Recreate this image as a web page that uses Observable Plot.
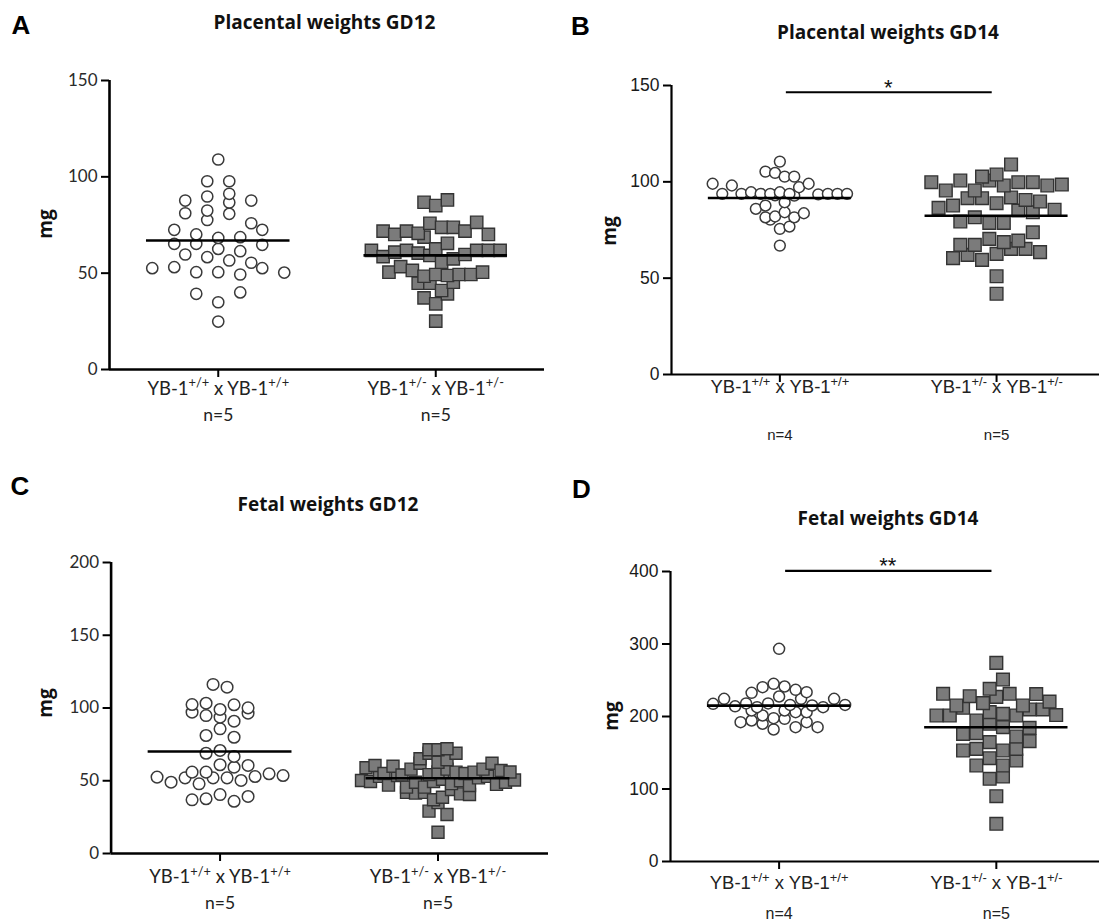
<!DOCTYPE html>
<html><head><meta charset="utf-8">
<script src="https://cdn.jsdelivr.net/npm/d3@7"></script>
<script src="https://cdn.jsdelivr.net/npm/@observablehq/plot@0.6"></script>
<style>
body{margin:0;background:#fff;}
#wrap{position:relative;width:1101px;height:922px;overflow:hidden;background:#fff;}
.letter{position:absolute;font-family:"Liberation Sans",Arial,sans-serif;font-weight:bold;font-size:26px;line-height:1;color:#000;transform:translate(-50%,-50%);}
.ttl{position:absolute;font-family:"Open Sans",sans-serif;font-weight:bold;font-size:19px;line-height:1;color:#111;transform:translate(-50%,-50%);white-space:nowrap;}
.mg{position:absolute;font-family:"Open Sans",sans-serif;font-weight:bold;font-size:19px;line-height:1;color:#111;transform:translate(-50%,-50%) rotate(-90deg);}
.pnl{position:absolute;}
</style></head><body><div id="wrap"></div>
<script>
// ---------- data ----------
const categories = ["YB-1^{+/+} x YB-1^{+/+}", "YB-1^{+/-} x YB-1^{+/-}"];
const letters = ["A", "B", "C", "D"];
const titles = ["Placental weights GD12", "Placental weights GD14", "Fetal weights GD12", "Fetal weights GD14"];
const nA = ["n=5", "n=5"];
const nB = ["n=4", "n=5"];
const nC = ["n=5", "n=5"];
const nD = ["n=4", "n=5"];
const ticksA = [0, 50, 100, 150];
const ticksB = [0, 50, 100, 150];
const ticksC = [0, 50, 100, 150, 200];
const ticksD = [0, 100, 200, 300, 400];
const sigLabels = ["*", "**"];
const sigValues = [146.5, 401];

// Placental weights GD12 (mg)
const a1 = [52.6, 59.7, 87.7, 81.1, 65.2, 53.1, 89.8, 82.5, 72.5, 65.2, 58.3, 50.5,
  97.7, 77.6, 70.1, 62.6, 50.5, 39.3, 109.0, 24.9, 97.7, 91.2, 80.8, 68.3, 56.6, 49.3, 34.9,
  86.7, 75.9, 68.7, 61.4, 52.6, 40.0, 87.7, 72.5, 64.7, 55.4, 50.3];
const a2 = [61.8, 71.8, 58.6, 50.5, 70.1, 60.9, 53.4, 44.8, 71.8, 61.8, 51.4, 44.8,
  68.7, 60.4, 48.4, 86.8, 70.7, 59.2, 49.3, 37.2, 25.1, 85.1, 75.9, 62.6, 55.7, 48.8, 41.0, 34.1,
  88.0, 73.8, 65.5, 57.4, 45.3, 39.3, 73.8, 59.7, 49.3, 71.8, 61.8, 49.3, 76.4, 70.1, 61.8, 50.5, 61.8];
// Placental weights GD14 (mg)
const b1 = [99.0, 93.8, 98.1, 93.8, 94.6, 87.7, 80.4, 105.3, 93.8, 86.0, 104.6, 93.8, 81.6,
  94.6, 82.0, 75.6, 66.9, 102.7, 93.8, 84.2, 76.8, 110.5, 97.2, 93.0, 89.4, 81.6,
  99.0, 93.5, 83.7, 93.8, 102.7, 93.8, 93.8, 92.8];
const b2 = [99.8, 86.5, 102.7, 95.5, 87.7, 67.3, 60.4, 100.7, 91.5, 79.4, 67.3,
  103.8, 95.5, 81.6, 70.4, 62.1, 100.7, 91.5, 78.7, 68.7, 59.5, 51.0, 41.9,
  98.1, 88.9, 78.7, 69.5, 62.6, 99.8, 91.9, 85.1, 73.8, 65.2, 109.0, 99.8, 90.6, 84.2, 65.2,
  98.1, 89.8, 63.5, 98.6, 85.5];
// Fetal weights GD12 (mg)
const c1 = [52.5, 55.9, 102.4, 55.9, 97.1, 68.9, 49.0, 36.9, 94.8, 61.0, 52.0,
  116.2, 103.3, 93.7, 81.1, 59.3, 47.9, 37.6, 114.3, 99.0, 85.7, 52.0, 40.5,
  102.2, 90.9, 79.9, 70.8, 60.5, 52.0, 35.9, 96.4, 50.2, 39.2, 100.1, 66.7, 52.9, 54.8, 53.6];
const c2 = [58.9, 50.2, 60.5, 49.5, 53.0, 42.0, 71.3, 55.0, 47.0, 53.6, 45.6, 41.5,
  71.3, 60.0, 54.0, 42.0, 65.1, 58.0, 49.0, 36.9, 62.0, 54.2, 45.6, 29.1,
  68.9, 56.0, 49.5, 38.7, 14.6, 58.0, 51.0, 44.0, 35.0, 62.7, 55.9, 48.0, 26.8,
  72.0, 55.0, 50.0, 41.0, 64.4, 55.9, 46.7, 68.9, 58.0, 52.0, 40.5, 62.0, 53.0, 47.5,
  57.0, 49.0, 56.0, 50.5];
// Fetal weights GD14 (mg)
const d1 = [217.5, 224.4, 208.3, 232.6, 214.0, 192.2, 240.5, 218.0, 201.4, 212.9, 194.5,
  218.0, 197.7, 190.0, 293.3, 245.1, 227.6, 208.3, 182.1, 216.0, 196.8,
  241.4, 224.4, 206.0, 185.3, 236.8, 215.2, 192.2, 233.6, 212.9, 185.3, 224.4, 206.0, 216.0];
const d2 = [201.4, 231.3, 215.2, 201.4, 176.1, 238.2, 212.0, 194.5, 177.0, 153.1,
  206.0, 189.9, 155.4, 132.4, 114.1, 274.0, 228.0, 203.7, 185.3, 164.6, 142.5, 90.1, 52.0,
  251.0, 218.4, 201.4, 172.4, 153.1, 132.4, 117.2, 227.0, 209.7, 155.4, 139.3,
  231.3, 215.2, 184.4, 166.0, 231.0, 209.7, 220.5, 202.0];

// ---------- layout helpers ----------
// Prism-like scatter: bin points into rows one symbol high, spread each row around the group centre
function swarm(values, g, rowUnits, stepUnits) {
  const idx = d3.range(values.length).sort((i, j) => values[i] - values[j] || i - j);
  const rows = []; let cur = null, start = -Infinity;
  for (const i of idx) {
    if (!cur || values[i] - start >= rowUnits) { cur = []; rows.push(cur); start = values[i]; }
    cur.push(i);
  }
  const out = [];
  for (const row of rows) {
    row.sort((a, b) => a - b);
    const k = row.length;
    row.forEach((i, j) => out.push({g, v: values[i], x: g + (j - (k - 1) / 2) * stepUnits}));
  }
  return out;
}

function supify(svg, fs) {
  svg.querySelectorAll("text").forEach(t => {
    const s = t.textContent;
    if (!s.includes("^{")) return;
    const parts = s.split(/(\^\{[^}]*\})/);
    t.textContent = "";
    let shifted = false;
    for (const p of parts) {
      if (!p) continue;
      const ts = document.createElementNS("http://www.w3.org/2000/svg", "tspan");
      if (p.startsWith("^{")) {
        ts.textContent = p.slice(2, -1);
        ts.setAttribute("font-size", (fs * 0.7).toFixed(1));
        ts.setAttribute("dy", (-fs * 0.42).toFixed(1));
        shifted = true;
      } else {
        ts.textContent = p;
        if (shifted) { ts.setAttribute("dy", (fs * 0.42).toFixed(1)); shifted = false; }
      }
      t.appendChild(ts);
    }
  });
}

const panels = [
  {data: [a1, a2], n: nA, ticks: ticksA, sig: null, left: 0, top: 50, width: 550, height: 400,
   mL: 109, mR: 6, mT: 30, mB: 81, xMax: 1.5, yMax: 150, font: "Lato", tickFs: 17, catFs: 18.5, nFs: 17.5,
   catDy: 19.5, nDy: 46, tickFill: "#2a2a2a", axisW: 2.6, r: 5.6, side: 12.3, row: [11, 12.3], step: [22, 11.7],
   letter: [21, 25], title: [324.5, 22], mg: [45, 224]},
  {data: [b1, b2], n: nB, ticks: ticksB, sig: 0, left: 550, top: 50, width: 551, height: 400,
   mL: 121, mR: 2, mT: 35, mB: 76, xMax: 1.475, yMax: 150, font: "Liberation Sans", tickFs: 17.5, catFs: 18.5, nFs: 15,
   catDy: 13, nDy: 61, tickFill: "#1a1a1a", axisW: 2.2, r: 5.4, side: 12.7, row: [10.7, 12.7], step: [9.6, 14.5],
   letter: [580.5, 26], title: [888, 32], mg: [608.5, 231]},
  {data: [c1, c2], n: nC, ticks: ticksC, sig: null, left: 0, top: 510, width: 550, height: 412,
   mL: 110.6, mR: 2, mT: 52, mB: 69, xMax: 1.507, yMax: 200, font: "Lato", tickFs: 17, catFs: 18.5, nFs: 17.5,
   catDy: 24, nDy: 50, tickFill: "#2a2a2a", axisW: 2.6, r: 5.8, side: 12, row: [11.6, 12], step: [14, 9],
   letter: [20, 486], title: [328, 504], mg: [44.5, 703]},
  {data: [d1, d2], n: nD, ticks: ticksD, sig: 1, left: 550, top: 520, width: 551, height: 402,
   mL: 120, mR: 2, mT: 51, mB: 61, xMax: 1.475, yMax: 400, font: "Liberation Sans", tickFs: 17.5, catFs: 18.5, nFs: 16,
   catDy: 22, nDy: 52, tickFill: "#1a1a1a", axisW: 2.2, r: 5.5, side: 12.7, row: [11, 12.7], step: [11, 13.3],
   letter: [581.5, 488.5], title: [888, 518], mg: [610.5, 716]}
];

const wrap = document.getElementById("wrap");

panels.forEach((p, k) => {
  const pxY = (p.height - p.mT - p.mB) / p.yMax;
  const pxX = (p.width - p.mL - p.mR) / (p.xMax + 0.5);
  const pts = p.data.flatMap((vals, g) => swarm(vals, g, p.row[g] / pxY, p.step[g] / pxX));
  const means = p.data.map((vals, g) => ({g, m: d3.mean(vals)}));
  const marks = [
    Plot.axisY({ticks: p.ticks, tickSize: 8, tickPadding: 4, tickFormat: d3.format("d"), label: null,
      fontSize: p.tickFs, fill: p.tickFill, stroke: "#000", strokeWidth: 2}),
    Plot.axisX({ticks: [0, 1], tickSize: 8, tickFormat: () => "", label: null, stroke: "#000", strokeWidth: 2}),
    Plot.ruleX([-0.5], {y1: 0, y2: p.yMax, stroke: "#000", strokeWidth: p.axisW}),
    Plot.ruleY([0], {x1: -0.5, x2: p.xMax, stroke: "#000", strokeWidth: p.axisW}),
    Plot.dot(pts.filter(d => d.g === 0), {x: "x", y: "v", r: p.r, symbol: "circle", fill: "#fff", stroke: "#3a3a3a", strokeWidth: 1.5}),
    Plot.dot(pts.filter(d => d.g === 1), {x: "x", y: "v", r: p.side / Math.sqrt(Math.PI), symbol: "square", fill: "#7b7b7b", stroke: "#333", strokeWidth: 1.4}),
    Plot.ruleY(means, {y: "m", x1: d => d.g - 0.33, x2: d => d.g + 0.33, stroke: "#000", strokeWidth: 2.6}),
    Plot.text(categories, {x: (d, i) => i, text: d => d, frameAnchor: "bottom", dy: p.catDy, lineAnchor: "middle",
      fontSize: p.catFs, fill: "#222"}),
    Plot.text(p.n, {x: (d, i) => i, text: d => d, frameAnchor: "bottom", dy: p.nDy, lineAnchor: "middle",
      fontSize: p.nFs, fill: "#222"})
  ];
  if (p.sig !== null) {
    const s = [{label: sigLabels[p.sig], v: sigValues[p.sig]}];
    marks.push(Plot.ruleY(s, {y: "v", x1: 0.03, x2: 0.98, stroke: "#000", strokeWidth: 2.2}));
    marks.push(Plot.text(s, {x: 0.5, y: "v", text: "label", dy: -4.5, lineAnchor: "middle", fontSize: 22, fill: "#111"}));
  }
  const svg = Plot.plot({
    width: p.width, height: p.height,
    marginLeft: p.mL, marginRight: p.mR, marginTop: p.mT, marginBottom: p.mB,
    x: {type: "linear", domain: [-0.5, p.xMax]},
    y: {type: "linear", domain: [0, p.yMax]},
    style: {fontFamily: p.font + ", sans-serif", background: "transparent", overflow: "visible"},
    marks
  });
  supify(svg, p.catFs);
  svg.classList.add("pnl");
  svg.style.left = p.left + "px";
  svg.style.top = p.top + "px";
  svg.style.position = "absolute";
  wrap.appendChild(svg);

  const L = document.createElement("div");
  L.className = "letter"; L.textContent = letters[k];
  L.style.left = p.letter[0] + "px"; L.style.top = p.letter[1] + "px";
  wrap.appendChild(L);
  const T = document.createElement("div");
  T.className = "ttl"; T.textContent = titles[k];
  T.style.left = p.title[0] + "px"; T.style.top = p.title[1] + "px";
  wrap.appendChild(T);
  const M = document.createElement("div");
  M.className = "mg"; M.textContent = "mg";
  M.style.left = p.mg[0] + "px"; M.style.top = p.mg[1] + "px";
  wrap.appendChild(M);
});
</script></body></html>
